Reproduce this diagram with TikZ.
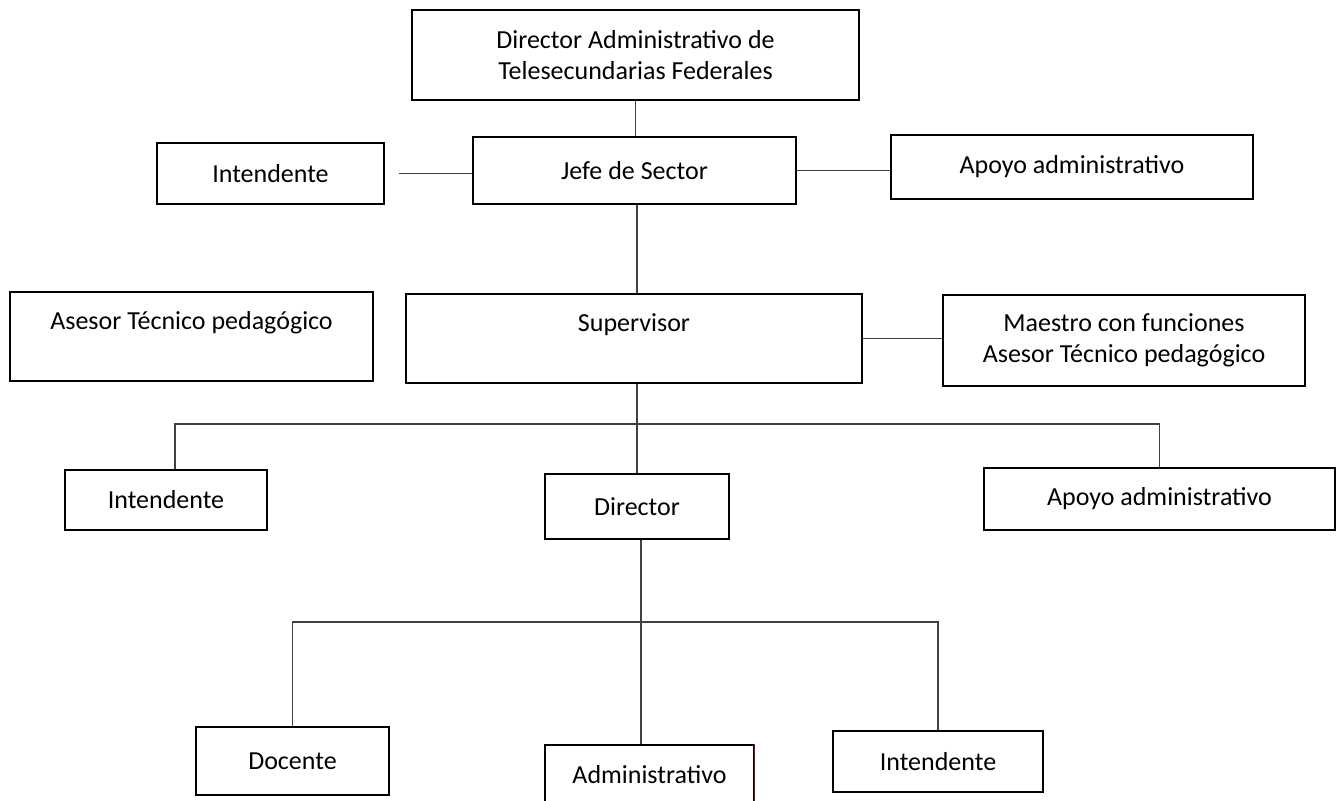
\documentclass[tikz,border=0pt]{standalone}
\usepackage{fontspec}
\setmainfont{Carlito}
\usetikzlibrary{positioning}

\definecolor{edgered}{RGB}{120,20,20}

\tikzset{
    orgbox/.style={draw=black, line width=0.7pt, rectangle, align=center,
        inner sep=2pt, font=\fontsize{13}{15.6}\selectfont},
    link/.style={draw=black!75, line width=0.55pt}
}

\begin{document}
\begin{tikzpicture}[x=0.5pt, y=-0.5pt]
    \useasboundingbox[fill=white] (0,0) rectangle (1337,800);

    % top level
    \node[orgbox, minimum width=223.5pt, minimum height=45pt] (dirAdmin) at (635.5,55) {Director Administrativo de\\Telesecundarias Federales};
    \node[orgbox, minimum width=161.5pt, minimum height=33.5pt] (jefe) at (634.5,170.5) {Jefe de Sector};
    \node[orgbox, minimum width=113.5pt, minimum height=30.5pt] (intA) at (270.5,173.5) {Intendente};
    \node[orgbox, minimum width=181pt, minimum height=32pt] (apoyoA) at (1072,167) {Apoyo administrativo};

    % supervision
    \node[orgbox, minimum width=181.5pt, minimum height=44.5pt] (asesor) at (191.5,336.5) {Asesor Técnico pedagógico\\~};
    \node[orgbox, minimum width=228pt, minimum height=44.5pt] (superv) at (634,338.5) {Supervisor\\~};
    \node[orgbox, minimum width=181pt, minimum height=45.5pt] (maestro) at (1124,340.5) {Maestro con funciones\\Asesor Técnico pedagógico};

    % school
    \node[orgbox, minimum width=101pt, minimum height=30pt] (intB) at (166,500) {Intendente};
    \node[orgbox, minimum width=92pt, minimum height=32.5pt] (director) at (637,506.5) {Director};
    \node[orgbox, minimum width=175.5pt, minimum height=31pt] (apoyoB) at (1159.5,499) {Apoyo administrativo};

    % staff
    \node[orgbox, minimum width=96.5pt, minimum height=34pt] (docente) at (292.5,761) {Docente};
    \node[orgbox, minimum width=104.5pt, minimum height=30pt] (admin) at (649.5,775) {Administrativo};
    \node[orgbox, minimum width=105pt, minimum height=30.5pt] (intC) at (938,761.5) {Intendente};
    \draw[edgered, line width=0.7pt] (admin.north east) -- (admin.south east);

    \coordinate (intAend) at ([xshift=7pt]intA.east);
    \coordinate (busA) at (637,424);
    \coordinate (busB) at (641,622);

    \draw[link] (dirAdmin.south) -- (dirAdmin.south |- jefe.north);
    \draw[link] (intAend) -- (intAend -| jefe.west);
    \draw[link] (jefe.east) -- (jefe.east -| apoyoA.west);
    \draw[link] (jefe.south -| busA) -- (busA |- superv.north);
    \draw[link] (superv.east) -- (superv.east -| maestro.west);
    \draw[link] (superv.south -| director.north) -- (director.north);
    \draw[link] ([xshift=4.5pt]intB.north) |- (busA) -| (apoyoB.north);
    \draw[link] (director.south -| busB) -- (busB |- admin.north);
    \draw[link] (docente.north) |- (busB) -| (intC.north);
\end{tikzpicture}
\end{document}
